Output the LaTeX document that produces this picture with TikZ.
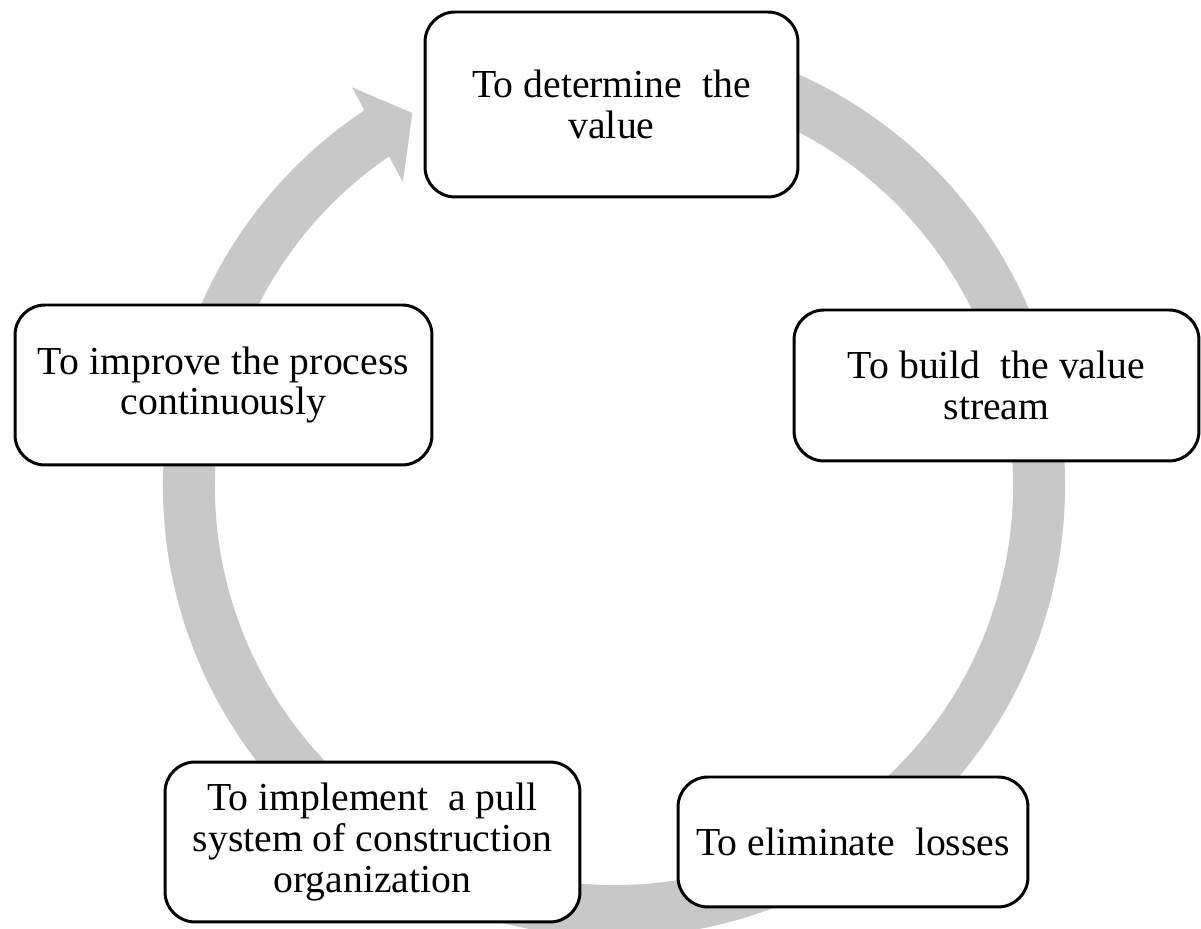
\documentclass[tikz,border=0pt]{standalone}
\usepackage{fontspec}
\setmainfont{Liberation Serif}
\definecolor{ringgray}{RGB}{200,200,200}
\tikzset{
  stepbox/.style={draw=black, line width=1.7pt, fill=white,
    rounded corners=0.6cm, align=center, inner sep=0pt,
    font=\fontsize{22.6}{23.3}\selectfont},
}

\begin{document}
\begin{tikzpicture}[x=0.02cm,y=0.02cm]
\useasboundingbox (0,0) rectangle (1201,929);

% gray cycle arrow
\coordinate (hub) at (614,443);
\draw[ringgray, line width=1.04cm] ([shift={(80:425)}]hub) arc (80:-237:425);
\fill[ringgray, shift={(hub)}] (-236.7:477) -- (-241.6:424) -- (-235.2:370) -- cycle;

% steps
\node[stepbox, minimum width=7.46cm, minimum height=3.70cm] (value) at (611.5,824.5)
	{To determine~ the\\value};
\node[stepbox, minimum width=8.10cm, minimum height=3.02cm] (stream) at (996.5,543.5)
	{To build~ the value\\stream};
\node[stepbox, minimum width=7.00cm, minimum height=2.60cm] (losses) at (853,87)
	{To eliminate~ losses};
\node[stepbox, minimum width=8.30cm, minimum height=3.20cm] (pull) at (372.5,87)
	{To implement~ a pull\\system of construction\\organization};
\node[stepbox, minimum width=8.34cm, minimum height=3.20cm] (improve) at (223.5,544)
	{To improve the process\\continuously};

\end{tikzpicture}
\end{document}
